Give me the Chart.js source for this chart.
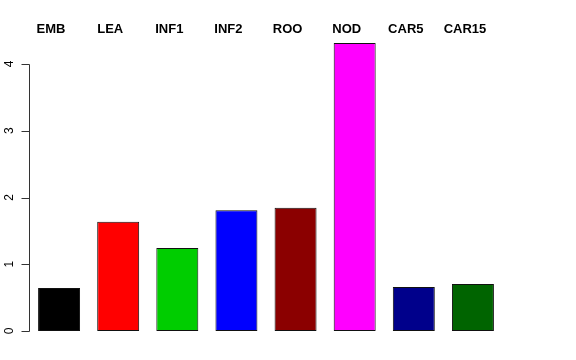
<!DOCTYPE html>
<html>
<head>
<meta charset="utf-8">
<script src="https://cdn.jsdelivr.net/npm/chart.js@4"></script>
<style>
html,body{margin:0;padding:0;background:#fff}
#wrap{width:576px;height:360px}
</style>
</head>
<body>
<div id="wrap"><canvas id="chart" width="576" height="360"></canvas></div>
<script>
const categories=['EMB','LEA','INF1','INF2','ROO','NOD','CAR5','CAR15'];
const values=[0.645,1.635,1.245,1.81,1.845,4.315,0.66,0.705];
const barColors=['#000000','#FF0000','#00CD00','#0000FF','#8B0000','#FF00FF','#00008B','#006400'];
const yTicks=[0,1,2,3,4];
const yMax=4.315;

// R-style left axis: line spans only the tick range, labels turned 90deg
const rAxis={
  id:'rAxis',
  afterDraw(chart){
    const ctx=chart.ctx,y=chart.scales.y,x0=Math.round(chart.chartArea.left)-0.5;
    ctx.save();
    ctx.strokeStyle='#333';ctx.lineWidth=1;
    ctx.beginPath();
    ctx.moveTo(x0,Math.round(y.getPixelForValue(yTicks[0]))+0.5);
    ctx.lineTo(x0,Math.round(y.getPixelForValue(yTicks[yTicks.length-1]))+0.5);
    yTicks.forEach(t=>{const py=Math.round(y.getPixelForValue(t))+0.5;ctx.moveTo(x0,py);ctx.lineTo(x0-8,py)});
    ctx.stroke();
    ctx.fillStyle='#000';ctx.font='12px "Liberation Sans", Arial, sans-serif';
    ctx.textAlign='center';ctx.textBaseline='middle';
    yTicks.forEach(t=>{
      ctx.save();ctx.translate(x0-20,y.getPixelForValue(t));ctx.rotate(-Math.PI/2);
      ctx.fillText(String(t),0,0);ctx.restore();
    });
    // category names along the top
    const xs=chart.scales.x;
    ctx.font='bold 13px "Liberation Sans", Arial, sans-serif';
    categories.forEach((c,i)=>{ctx.fillText(c,xs.getPixelForValue(i)-8,29)});
    ctx.restore();
  }
};

new Chart(document.getElementById('chart'),{
  type:'bar',
  data:{labels:categories,datasets:[{data:values,backgroundColor:barColors,borderColor:'#111',borderWidth:1,borderSkipped:false,categoryPercentage:1,barPercentage:0.71}]},
  options:{
    responsive:false,animation:false,
    layout:{padding:{left:29.5,right:73.5,top:43,bottom:29}},
    plugins:{legend:{display:false},tooltip:{enabled:false}},
    scales:{
      x:{display:false},
      y:{display:false,min:0,max:yMax}
    }
  },
  plugins:[rAxis]
});
</script>
</body>
</html>
